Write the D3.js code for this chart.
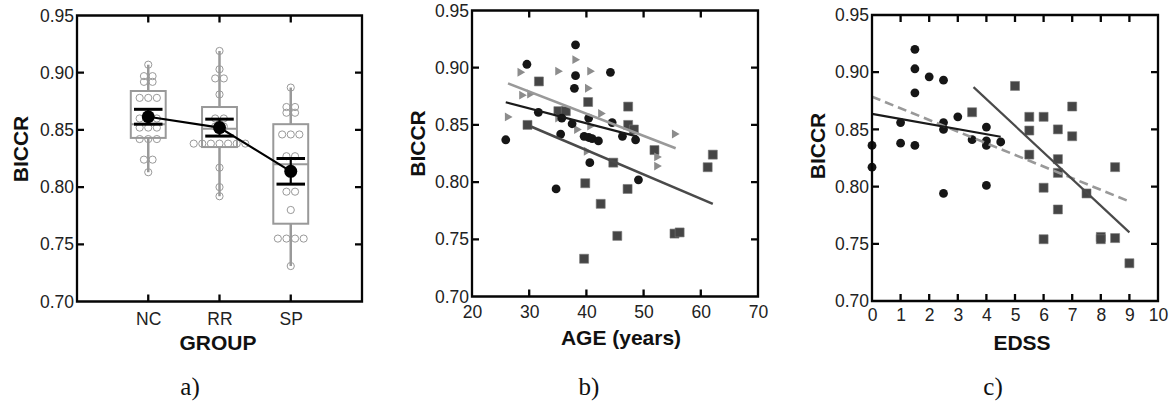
<!DOCTYPE html>
<html>
<head>
<meta charset="utf-8">
<script src="https://cdn.jsdelivr.net/npm/d3@7"></script>
<style>
  html, body { margin: 0; padding: 0; background: #fff; }
  svg { display: block; font-family: "Liberation Sans", Arial, sans-serif; }
  .tick-label { font-size: 17.5px; fill: #222; }
  .axis-title { font-size: 21px; font-weight: bold; fill: #111; }
  .caption { font-family: "Liberation Serif", "DejaVu Serif", serif; font-size: 25px; fill: #111; }
</style>
</head>
<body>
<svg width="1174" height="401"></svg>
<script>
// ---- data ----
var yTicks = [0.70, 0.75, 0.80, 0.85, 0.90, 0.95];
var groups = ["NC", "RR", "SP"];

// panel a: individual values per group
var ncValues = [0.907, 0.897, 0.897, 0.892, 0.892, 0.878, 0.878, 0.878, 0.860, 0.860, 0.860,
                0.852, 0.852, 0.852, 0.842, 0.842, 0.842, 0.824, 0.824, 0.813];
var rrValues = [0.919, 0.903, 0.895, 0.895, 0.881, 0.860, 0.860, 0.853, 0.853,
                0.838, 0.838, 0.838, 0.838, 0.838, 0.838, 0.838, 0.817, 0.800, 0.792];
var spValues = [0.887, 0.870, 0.870, 0.865, 0.865, 0.846, 0.846, 0.846, 0.827, 0.827,
                0.796, 0.796, 0.780, 0.755, 0.755, 0.755, 0.755, 0.731];
var boxQ1 = [0.843, 0.835, 0.768];
var boxMedian = [0.855, 0.851, 0.820];
var boxQ3 = [0.884, 0.870, 0.855];
var whiskerLow = [0.813, 0.792, 0.731];
var whiskerHigh = [0.907, 0.919, 0.887];
var groupMeans = [0.8615, 0.852, 0.8138];
var groupSE = [0.0065, 0.0074, 0.0112];

// panel b: age vs BICCR
var ageTicks = [20, 30, 40, 50, 60, 70];
var rrAge = [25.9, 29.6, 31.6, 34.7, 35.5, 35.7, 38.1, 38.1, 37.9, 37.5, 39.6,
             40.4, 41.0, 42.1, 40.4, 40.6, 44.2, 44.5, 46.3, 48.6, 49.1];
var rrBiccrAge = [0.837, 0.903, 0.861, 0.794, 0.842, 0.856, 0.920, 0.893, 0.882, 0.851, 0.840,
                  0.839, 0.838, 0.836, 0.856, 0.817, 0.896, 0.852, 0.840, 0.837, 0.802];
var ncAge = [26.2, 28.4, 28.7, 30.1, 35.0, 35.0, 38.0, 40.6, 40.2, 38.3, 40.6, 42.5, 40.0, 52.3, 52.3, 55.4];
var ncBiccrAge = [0.857, 0.896, 0.876, 0.877, 0.897, 0.856, 0.907, 0.897, 0.882, 0.846, 0.849,
                  0.860, 0.827, 0.822, 0.814, 0.842];
var spAge = [31.7, 29.7, 35.1, 36.4, 40.3, 39.8, 39.6, 42.5, 44.7, 45.4, 47.3, 47.3, 48.3,
             47.2, 51.9, 55.4, 56.3, 61.2, 62.1];
var spBiccrAge = [0.888, 0.850, 0.862, 0.862, 0.870, 0.799, 0.733, 0.781, 0.817, 0.753, 0.866,
                  0.850, 0.846, 0.794, 0.828, 0.755, 0.756, 0.813, 0.824];
var fitAgeNC = [[26.3, 0.8863], [55.6, 0.8296]];
var fitAgeRR = [[25.9, 0.8698], [48.8, 0.8400]];
var fitAgeSP = [[30.4, 0.8484], [62.1, 0.7810]];

// panel c: EDSS vs BICCR
var edssTicks = [0, 1, 2, 3, 4, 5, 6, 7, 8, 9, 10];
var rrEdss = [0, 0, 1, 1, 1.5, 1.5, 1.5, 1.5, 2, 2.5, 2.5, 2.5, 2.5, 3, 3.5, 4, 4, 4, 4, 4.5];
var rrBiccrEdss = [0.836, 0.817, 0.856, 0.838, 0.920, 0.903, 0.882, 0.836, 0.896, 0.893, 0.856,
                   0.850, 0.794, 0.861, 0.841, 0.852, 0.840, 0.836, 0.801, 0.839];
var spEdss = [3.5, 5, 5.5, 5.5, 5.5, 6, 6, 6, 6.5, 6.5, 6.5, 6.5, 7, 7, 7.5, 8, 8, 8.5, 8.5, 9];
var spBiccrEdss = [0.865, 0.888, 0.861, 0.849, 0.828, 0.861, 0.799, 0.754, 0.850, 0.824, 0.812,
                   0.780, 0.870, 0.844, 0.794, 0.756, 0.754, 0.755, 0.817, 0.733];
var fitEdssRR = [[0, 0.8635], [4.5, 0.8436]];
var fitEdssSP = [[3.55, 0.887], [9.0, 0.760]];
var fitEdssAll = [[0, 0.8786], [9.0, 0.787]];

// ---- drawing ----
var svg = d3.select("svg");
var TICK = 7;
var fmt2 = d3.format(".2f");
var frames = [];

function labels(g, x, y, xTickVals, xFormat, xPad) {
    var x0 = x.range()[0], yB = y.range()[0];
    var bottom = g.append("g").attr("transform", "translate(0," + yB + ")")
        .call(d3.axisBottom(x).tickValues(xTickVals).tickFormat(xFormat).tickSize(0).tickPadding(xPad));
    var left = g.append("g").attr("transform", "translate(" + x0 + ",0)")
        .call(d3.axisLeft(y).tickValues(yTicks).tickFormat(fmt2).tickSize(0).tickPadding(3));
    [bottom, left].forEach(function (ax) {
        ax.select(".domain").remove();
        ax.selectAll(".tick line").remove();
        ax.attr("font-size", null).attr("font-family", null);
        ax.selectAll(".tick text").attr("class", "tick-label");
    });
    frames.push([x, y, xTickVals]);
}

// frame outline and inward ticks, drawn last on top of everything
function drawFrames() {
    var top = svg.append("g").attr("class", "frames");
    frames.forEach(function (f) {
        var x = f[0], y = f[1], xTickVals = f[2];
        var x0 = x.range()[0], x1 = x.range()[1], yB = y.range()[0], yT = y.range()[1];
        var p = d3.path();
        p.rect(x0, yT, x1 - x0, yB - yT);
        xTickVals.forEach(function (v) {
            p.moveTo(x(v), yB); p.lineTo(x(v), yB - TICK);
            p.moveTo(x(v), yT); p.lineTo(x(v), yT + TICK);
        });
        yTicks.forEach(function (v) {
            p.moveTo(x0, y(v)); p.lineTo(x0 + TICK, y(v));
            p.moveTo(x1, y(v)); p.lineTo(x1 - TICK, y(v));
        });
        top.append("path").attr("d", p.toString())
            .attr("fill", "none").attr("stroke", "#050505").attr("stroke-width", 2.3);
    });
}

function titles(g, xt, xtx, xty, yx, yy, cap, capx) {
    g.append("text").attr("class", "axis-title").attr("text-anchor", "middle")
        .attr("x", xtx).attr("y", xty).attr("dy", "0.36em").text(xt);
    g.append("text").attr("class", "axis-title").attr("text-anchor", "middle")
        .attr("transform", "translate(" + yx + "," + yy + ") rotate(-90)")
        .attr("dy", "0.36em").text("BICCR");
    g.append("text").attr("class", "caption").attr("text-anchor", "middle")
        .attr("x", capx).attr("y", 387).attr("dy", "0.33em").text(cap);
}

// ---------- panel a ----------
var ga = svg.append("g");
var xa = d3.scaleLinear().domain([0, 4]).range([77, 362]);
var ya = d3.scaleLinear().domain([0.70, 0.95]).range([301.5, 15.5]);
var groupValues = [ncValues, rrValues, spValues];

groupValues.forEach(function (vals, i) {
    var cx = xa(i + 1), hw = xa(0.245) - xa(0);
    ga.append("line").attr("x1", cx).attr("x2", cx)
        .attr("y1", ya(whiskerLow[i])).attr("y2", ya(whiskerHigh[i]))
        .attr("stroke", "#999").attr("stroke-width", 2.5);
    ga.append("rect").attr("x", cx - hw).attr("width", 2 * hw)
        .attr("y", ya(boxQ3[i])).attr("height", ya(boxQ1[i]) - ya(boxQ3[i]))
        .attr("fill", "#fff").attr("stroke", "#999").attr("stroke-width", 2);
    ga.append("line").attr("x1", cx - hw).attr("x2", cx + hw)
        .attr("y1", ya(boxMedian[i])).attr("y2", ya(boxMedian[i]))
        .attr("stroke", "#999").attr("stroke-width", 2);
    // spread equal values side by side
    var counts = d3.rollup(vals, function (v) { return v.length; }, function (d) { return d; });
    var seen = new Map();
    vals.forEach(function (v) {
        var n = counts.get(v), k = seen.get(v) || 0;
        seen.set(v, k + 1);
        ga.append("circle")
            .attr("cx", cx + (k - (n - 1) / 2) * 8.6).attr("cy", ya(v)).attr("r", 3.6)
            .attr("fill", "none").attr("stroke", "#999").attr("stroke-width", 1);
    });
});

// means with error bars
var meanLine = d3.line().x(function (d, i) { return xa(i + 1); }).y(function (d) { return ya(d); });
ga.append("path").attr("d", meanLine(groupMeans))
    .attr("fill", "none").attr("stroke", "#000").attr("stroke-width", 2.2);
groupMeans.forEach(function (m, i) {
    var cx = xa(i + 1), cw = xa(0.2) - xa(0);
    ga.append("line").attr("x1", cx).attr("x2", cx)
        .attr("y1", ya(m - groupSE[i])).attr("y2", ya(m + groupSE[i]))
        .attr("stroke", "#000").attr("stroke-width", 2.2);
    [m - groupSE[i], m + groupSE[i]].forEach(function (v) {
        ga.append("line").attr("x1", cx - cw).attr("x2", cx + cw)
            .attr("y1", ya(v)).attr("y2", ya(v))
            .attr("stroke", "#000").attr("stroke-width", 3);
    });
    ga.append("circle").attr("cx", cx).attr("cy", ya(m)).attr("r", 6.5).attr("fill", "#000");
});

labels(ga, xa, ya, [1, 2, 3], function (d) { return groups[d - 1]; }, 11);
titles(ga, "GROUP", 218, 342, 20.5, 149, "a)", 190);

// ---------- panel b ----------
var gb = svg.append("g");
var xb = d3.scaleLinear().domain([20, 70]).range([472, 758]);
var yb = d3.scaleLinear().domain([0.70, 0.95]).range([296.5, 10.5]);
var fitLine = function (x, y) {
    return d3.line().x(function (d) { return x(d[0]); }).y(function (d) { return y(d[1]); });
};
var lb = fitLine(xb, yb);
var sq = d3.symbol(d3.symbolSquare, 81);
var tri = d3.symbol(d3.symbolTriangle, 34);

gb.selectAll(".sp").data(spAge).enter().append("path")
    .attr("d", sq)
    .attr("transform", function (d, i) { return "translate(" + xb(d) + "," + yb(spBiccrAge[i]) + ")"; })
    .attr("fill", "#454545").attr("stroke", "#777").attr("stroke-width", 0.6);
gb.selectAll(".nc").data(ncAge).enter().append("path")
    .attr("d", tri)
    .attr("transform", function (d, i) { return "translate(" + xb(d) + "," + yb(ncBiccrAge[i]) + ") rotate(90)"; })
    .attr("fill", "#8c8c8c");
gb.selectAll(".rr").data(rrAge).enter().append("circle")
    .attr("cx", function (d) { return xb(d); })
    .attr("cy", function (d, i) { return yb(rrBiccrAge[i]); })
    .attr("r", 4.4).attr("fill", "#161616");
gb.append("path").attr("d", lb(fitAgeNC)).attr("fill", "none").attr("stroke", "#999").attr("stroke-width", 2.6);
gb.append("path").attr("d", lb(fitAgeRR)).attr("fill", "none").attr("stroke", "#1a1a1a").attr("stroke-width", 2.2);
gb.append("path").attr("d", lb(fitAgeSP)).attr("fill", "none").attr("stroke", "#4a4a4a").attr("stroke-width", 2.6);
labels(gb, xb, yb, ageTicks, d3.format("d"), 9);
titles(gb, "AGE (years)", 621, 337, 417.5, 143.5, "b)", 589);

// ---------- panel c ----------
var gc = svg.append("g");
var xc = d3.scaleLinear().domain([0, 10]).range([872, 1158]);
var yc = d3.scaleLinear().domain([0.70, 0.95]).range([301, 15]);
var lc = fitLine(xc, yc);
gc.selectAll(".sp").data(spEdss).enter().append("path")
    .attr("d", sq)
    .attr("transform", function (d, i) { return "translate(" + xc(d) + "," + yc(spBiccrEdss[i]) + ")"; })
    .attr("fill", "#454545").attr("stroke", "#777").attr("stroke-width", 0.6);
gc.selectAll(".rr").data(rrEdss).enter().append("circle")
    .attr("cx", function (d) { return xc(d); })
    .attr("cy", function (d, i) { return yc(rrBiccrEdss[i]); })
    .attr("r", 4.4).attr("fill", "#161616");
gc.append("path").attr("d", lc(fitEdssAll)).attr("fill", "none").attr("stroke", "#999")
    .attr("stroke-width", 2.6).attr("stroke-dasharray", "9,5");
gc.append("path").attr("d", lc(fitEdssRR)).attr("fill", "none").attr("stroke", "#1a1a1a").attr("stroke-width", 2.2);
gc.append("path").attr("d", lc(fitEdssSP)).attr("fill", "none").attr("stroke", "#4a4a4a").attr("stroke-width", 2.2);
labels(gc, xc, yc, edssTicks, d3.format("d"), 8);
titles(gc, "EDSS", 1022, 342, 817.5, 146, "c)", 993);

drawFrames();
</script>
</body>
</html>
